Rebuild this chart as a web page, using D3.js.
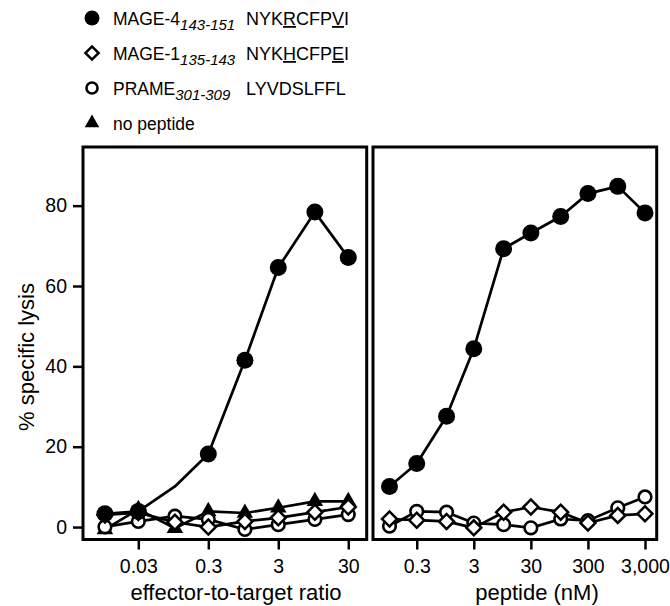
<!DOCTYPE html>
<html>
<head>
<meta charset="utf-8">
<script src="https://cdn.jsdelivr.net/npm/d3@7.9.0/dist/d3.min.js"></script>
<style>
  body { margin: 0; background: #fff; }
  svg { display: block; font-family: "Liberation Sans", Arial, Helvetica, sans-serif; }
</style>
</head>
<body>
<div id="viz"></div>
<script>
// effector-to-target panel
const etRatios = [0.01, 0.03, 0.1, 0.3, 1, 3, 10, 30];
const etMage4 = [3.3, 3.9, 10.1, 18.2, 41.5, 64.6, 78.4, 67.1];
const etMage4NoMarker = [0.1]; // line bends here but no symbol is drawn
const etMage1 = [3.0, 3.6, 1.2, 0.0, 1.4, 2.3, 3.7, 5.0];
const etPrame = [0.05, 1.4, 2.7, 1.9, -0.6, 0.6, 1.9, 3.1];
const etNoPeptide = [-0.6, 4.4, -0.3, 3.9, 3.5, 4.8, 6.4, 6.4];

// peptide titration panel
const peptideNm = [0.1, 0.3, 1, 3, 10, 30, 100, 300, 1000, 3000];
const pepMage4 = [10.1, 15.8, 27.6, 44.4, 69.3, 73.2, 77.3, 83.0, 84.8, 78.2];
const pepMage1 = [2.0, 1.7, 1.4, -0.2, 3.7, 5.0, 3.7, 1.0, 2.9, 3.3];
const pepPrame = [0.2, 3.9, 3.7, 1.0, 0.6, -0.2, 2.0, 1.6, 4.8, 7.5];

// ticks
const yTicks = [0, 20, 40, 60, 80];
const etTicks = [0.03, 0.3, 3, 30];
const etTickLabels = ["0.03", "0.3", "3", "30"];
const pepTicks = [0.3, 3, 30, 300, 3000];
const pepTickLabels = ["0.3", "3", "30", "300", "3,000"];

const width = 670;
const height = 606;
const plotTop = 147, plotBottom = 539.5;

const svg = d3.select("#viz").append("svg")
  .attr("width", width)
  .attr("height", height);

const y = d3.scaleLinear().domain([-3.1, 94.6]).range([plotBottom, plotTop]);
const xEt = d3.scaleLog().domain([0.00486, 55]).range([83, 366.7]);
const xPep = d3.scaleLog().domain([0.0514, 4810]).range([373, 656.7]);

// marker drawing
function drawMarker(g, type, cx, cy, k = 1) {
  if (type === "filled") {
    g.append("circle").attr("cx", cx).attr("cy", cy).attr("r", 8.5 * k)
      .attr("fill", "#000");
  } else if (type === "open") {
    g.append("circle").attr("cx", cx).attr("cy", cy).attr("r", 6.3 * k)
      .attr("fill", "#fff").attr("stroke", "#000").attr("stroke-width", 2.6);
  } else if (type === "diamond") {
    g.append("path")
      .attr("d", d3.symbol(d3.symbolSquare, 112 * k * k)())
      .attr("transform", `translate(${cx},${cy}) rotate(45)`)
      .attr("fill", "#fff").attr("stroke", "#000").attr("stroke-width", 2.5);
  } else if (type === "triangle") {
    g.append("path")
      .attr("d", d3.symbol(d3.symbolTriangle, 118 * k * k)())
      .attr("transform", `translate(${cx},${cy})`)
      .attr("fill", "#000");
  }
}

function drawSeries(x, xs, ys, type, noMarker = []) {
  const pts = xs.map((v, i) => ({ x: v, y: ys[i] }));
  const g = svg.append("g");
  g.append("path")
    .datum(pts)
    .attr("fill", "none")
    .attr("stroke", "#000")
    .attr("stroke-width", 2.7)
    .attr("stroke-linejoin", "round")
    .attr("d", d3.line().x(d => x(d.x)).y(d => y(d.y)));
  pts.forEach(d => {
    if (noMarker.includes(d.x)) return;
    drawMarker(g, type, x(d.x), y(d.y));
  });
}

// frames
[xEt, xPep].forEach(x => {
  const [x0, x1] = x.range();
  svg.append("rect")
    .attr("x", x0).attr("y", plotTop)
    .attr("width", x1 - x0).attr("height", plotBottom - plotTop)
    .attr("fill", "none").attr("stroke", "#000").attr("stroke-width", 3);
});

// axes
function styleAxis(g) {
  g.select(".domain").remove();
  g.selectAll(".tick line").attr("stroke", "#000").attr("stroke-width", 2.5);
  g.selectAll(".tick text").attr("fill", "#000").style("font-size", "19.5px")
    .style("font-family", "inherit");
}

svg.append("g")
  .attr("transform", `translate(83,0)`)
  .call(d3.axisLeft(y).tickValues(yTicks).tickSize(10).tickPadding(6))
  .call(styleAxis);

svg.append("g")
  .attr("transform", `translate(0,${plotBottom})`)
  .call(d3.axisBottom(xEt).tickValues(etTicks).tickSize(10).tickPadding(10)
    .tickFormat((d, i) => etTickLabels[i]))
  .call(styleAxis);

svg.append("g")
  .attr("transform", `translate(0,${plotBottom})`)
  .call(d3.axisBottom(xPep).tickValues(pepTicks).tickSize(10).tickPadding(10)
    .tickFormat((d, i) => pepTickLabels[i]))
  .call(styleAxis);

// axis titles
svg.append("text")
  .attr("x", 236).attr("y", 600)
  .attr("text-anchor", "middle")
  .style("font-size", "22px")
  .text("effector-to-target ratio");

svg.append("text")
  .attr("x", 537).attr("y", 600)
  .attr("text-anchor", "middle")
  .style("font-size", "22px")
  .text("peptide (nM)");

svg.append("text")
  .attr("transform", "translate(34,357) rotate(-90)")
  .attr("text-anchor", "middle")
  .style("font-size", "22px")
  .text("% specific lysis");

// data series: draw order keeps diamonds over circles over triangles
drawSeries(xEt, etRatios, etNoPeptide, "triangle");
drawSeries(xEt, etRatios, etPrame, "open");
drawSeries(xEt, etRatios, etMage1, "diamond");
drawSeries(xEt, etRatios, etMage4, "filled", etMage4NoMarker);

drawSeries(xPep, peptideNm, pepPrame, "open");
drawSeries(xPep, peptideNm, pepMage1, "diamond");
drawSeries(xPep, peptideNm, pepMage4, "filled");

// legend
const legendRows = [
  { type: "filled", name: "MAGE-4", sub: "143-151", seq: ["NYK", "R", "CFP", "V", "I"] },
  { type: "diamond", name: "MAGE-1", sub: "135-143", seq: ["NYK", "H", "CFP", "E", "I"] },
  { type: "open", name: "PRAME", sub: "301-309", seq: ["LYVDSLFFL"] },
  { type: "triangle", name: "no peptide", sub: null, seq: [] }
];
const legendY = [18, 53, 88, 123];

const legend = svg.append("g");
legendRows.forEach((row, i) => {
  const cy = legendY[i];
  const g = legend.append("g");
  drawMarker(g, row.type, 92, cy, 0.88);
  const t = g.append("text")
    .attr("x", 113).attr("y", cy + 7)
    .style("font-size", "17.5px");
  t.append("tspan").text(row.name);
  if (row.sub) {
    t.append("tspan")
      .attr("dy", 5)
      .style("font-size", "15px")
      .style("font-style", "italic")
      .text(row.sub);
  }
  if (row.seq.length) {
    const s = g.append("text")
      .attr("x", 246).attr("y", cy + 7)
      .style("font-size", "18px");
    row.seq.forEach((part, j) => {
      s.append("tspan")
        .attr("text-decoration", j % 2 === 1 ? "underline" : null)
        .text(part);
    });
  }
});
</script>
</body>
</html>
